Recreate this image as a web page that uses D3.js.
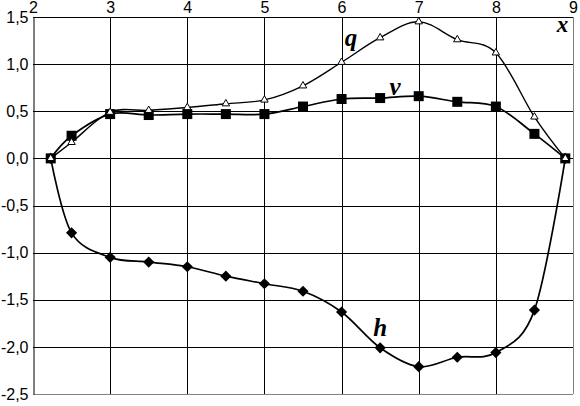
<!DOCTYPE html>
<html><head><meta charset="utf-8">
<script src="https://cdn.jsdelivr.net/npm/d3@7"></script>
<style>body{margin:0;background:#fff}svg{display:block}</style>
</head><body>
<svg id="c" width="580" height="406"></svg>
<script>
const xs = [2.23, 2.5, 3, 3.5, 4, 4.5, 5, 5.5, 6, 6.5, 7, 7.5, 8, 8.5, 8.9];
const qVals = [0, 0.17, 0.49, 0.51, 0.54, 0.58, 0.62, 0.77, 1.02, 1.28, 1.45, 1.26, 1.12, 0.44, 0];
const vVals = [0, 0.24, 0.47, 0.46, 0.47, 0.47, 0.47, 0.55, 0.63, 0.64, 0.66, 0.60, 0.55, 0.26, 0];
const hVals = [0, -0.79, -1.05, -1.10, -1.15, -1.25, -1.33, -1.41, -1.63, -2.01, -2.21, -2.11, -2.06, -1.61, 0];
const xTicks = [2, 3, 4, 5, 6, 7, 8, 9];
const yTicks = [1.5, 1.0, 0.5, 0.0, -0.5, -1.0, -1.5, -2.0, -2.5];
const seriesLabels = [
  {t: "q", x: 6.04, y: 1.19},
  {t: "v", x: 6.62, y: 0.67},
  {t: "h", x: 6.41, y: -1.88},
  {t: "x", x: 8.79, y: 1.34}
];

const svg = d3.select("#c");
const x = d3.scaleLinear().domain([2, 9]).range([33, 573]);
const y = d3.scaleLinear().domain([-2.5, 1.5]).range([394, 17]);
const fmt = v => d3.format(".1f")(v).replace(".", ",").replace("−", "-");

// grid
const g = svg.append("g");
g.selectAll(".vg").data(xTicks.filter(t => t > 2 && t < 9)).enter().append("line")
  .attr("x1", d => Math.round(x(d)) + 0.5).attr("x2", d => Math.round(x(d)) + 0.5)
  .attr("y1", y(1.5)).attr("y2", y(-2.5)).attr("stroke", "#000").attr("stroke-width", 1);
g.selectAll(".hg").data(yTicks.filter(t => t > -2.5)).enter().append("line")
  .attr("y1", d => Math.round(y(d)) + 0.5).attr("y2", d => Math.round(y(d)) + 0.5)
  .attr("x1", x(2)).attr("x2", x(9)).attr("stroke", "#000").attr("stroke-width", 1);
// border right/bottom gray
g.append("line").attr("x1", Math.round(x(9)) + 0.5).attr("x2", Math.round(x(9)) + 0.5)
  .attr("y1", y(1.5)).attr("y2", y(-2.5)).attr("stroke", "#808080");
g.append("line").attr("y1", Math.round(y(-2.5)) + 0.5).attr("y2", Math.round(y(-2.5)) + 0.5)
  .attr("x1", x(2)).attr("x2", x(9)).attr("stroke", "#808080");

// axes
const xAxis = d3.axisTop(x).tickValues(xTicks).tickSize(0).tickPadding(5).tickFormat(d3.format("d"));
const xa = svg.append("g").attr("transform", `translate(0,${Math.round(y(1.5)) + 0.5})`).call(xAxis);
xa.select(".domain").remove();
xa.selectAll("text").attr("font-family", "Liberation Sans, Arial, sans-serif").attr("font-size", 16).attr("fill", "#000");

const yAxis = d3.axisLeft(y).tickValues(yTicks).tickSize(0).tickPadding(5).tickFormat(fmt);
const ya = svg.append("g").attr("transform", `translate(${Math.round(x(2)) + 0.5},0)`).call(yAxis);
ya.select(".domain").attr("stroke", "#000");
ya.selectAll("text").attr("font-family", "Liberation Sans, Arial, sans-serif").attr("font-size", 16).attr("fill", "#000");

const line = vals => d3.line().curve(d3.curveCardinal.tension(0))
  .x((d, i) => x(xs[i])).y(d => y(d))(vals);

// h
svg.append("path").attr("d", line(hVals)).attr("fill", "none").attr("stroke", "#000").attr("stroke-width", 1.7);
svg.selectAll(".hm").data(hVals).enter().append("path")
  .attr("d", d3.symbol().type(d3.symbolDiamond2 || d3.symbolSquare2).size(80)())
  .attr("transform", (d, i) => `translate(${x(xs[i])},${y(d)}) rotate(${d3.symbolDiamond2 ? 0 : 45})`)
  .attr("fill", "#000");
// v
svg.append("path").attr("d", line(vVals)).attr("fill", "none").attr("stroke", "#000").attr("stroke-width", 1.7);
svg.selectAll(".vm").data(vVals).enter().append("rect")
  .attr("x", (d, i) => x(xs[i]) - 5).attr("y", d => y(d) - 5)
  .attr("width", 10).attr("height", 10).attr("fill", "#000");
// q
svg.append("path").attr("d", line(qVals)).attr("fill", "none").attr("stroke", "#000").attr("stroke-width", 1.4);
svg.selectAll(".qm").data(qVals).enter().append("path")
  .attr("d", d3.symbol().type(d3.symbolTriangle).size(24)())
  .attr("transform", (d, i) => `translate(${x(xs[i])},${y(d)})`)
  .attr("fill", "#fff").attr("stroke", "#000").attr("stroke-width", 1);

// labels
svg.selectAll(".lab").data(seriesLabels).enter().append("text")
  .attr("x", d => x(d.x)).attr("y", d => y(d.y))
  .attr("font-family", "Liberation Serif, Times New Roman, serif")
  .attr("font-style", "italic").attr("font-weight", "bold")
  .attr("font-size", d => d.t === "x" ? 23 : 25)
  .attr("fill", "#000").text(d => d.t);
</script>
</body></html>
